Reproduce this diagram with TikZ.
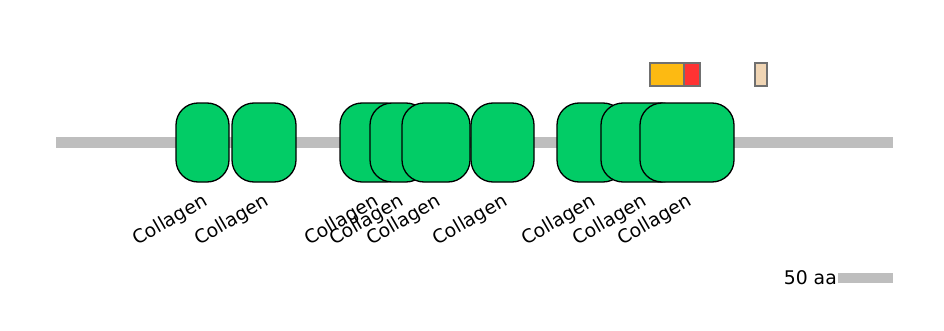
\documentclass[tikz,border=0pt]{standalone}
\usepackage{fontspec}
\setmainfont{DejaVu Sans}
\definecolor{domc}{RGB}{2,204,102}
\definecolor{bbc}{RGB}{190,190,190}
\definecolor{orngc}{RGB}{253,186,18}
\definecolor{rdc}{RGB}{255,51,51}
\definecolor{tanc}{RGB}{240,213,180}
\definecolor{mbordc}{RGB}{112,112,112}
\tikzset{
  dombox/.style={draw=black, line width=1.3pt, fill=domc, rounded corners=22pt},
  motifbox/.style={draw=mbordc, line width=1.5pt},
  lblstyle/.style={font=\fontsize{18.8}{22}\selectfont, rotate=30, anchor=north east, inner sep=0pt},
}
\begin{document}
\begin{tikzpicture}[x=1pt,y=1pt]
\useasboundingbox (0,0) rectangle (944,330);
% backbone
\fill[bbc] (56,182) rectangle (893,193);
% domains
\foreach \a/\b/\n in {176/229/d1, 232/296/d2, 340/408/d3, 370/428/d4, 402/470/d5, 471/534/d6, 557/625/d7, 601/683/d8, 640/734/d9}{
  \draw[dombox] (\a,148) rectangle (\b,227);
  \coordinate (\n) at ({(\a+\b)/2},138);
}
% labels
\foreach \n in {d1,d2,d3,d4,d5,d6,d7,d8,d9}{
  \node[lblstyle] (l\n) at ([xshift=-1pt]\n) {Collagen};
}
% motifs
\draw[motifbox, fill=orngc] (650,244) rectangle (684,267);
\draw[motifbox, fill=rdc] (684,244) rectangle (700,267);
\draw[motifbox, fill=tanc] (755,244) rectangle (767,267);
% scale bar
\fill[bbc] (838,47) rectangle (893,57);
\node[font=\fontsize{18.8}{22}\selectfont, anchor=east, inner sep=1pt] (sc) at (838,52) {50 aa};
\end{tikzpicture}
\end{document}
